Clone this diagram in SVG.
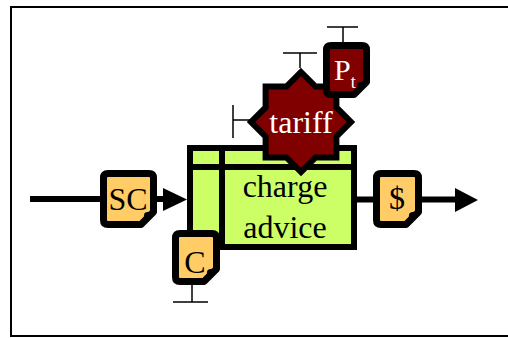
<svg xmlns="http://www.w3.org/2000/svg" width="508" height="338" viewBox="0 0 508 338">
<style>
.doc{stroke:#000;stroke-width:7;stroke-linejoin:round}
.org{fill:#ffcc66}
.red{fill:#800000}
.curl{fill:#000}
.lbl{font-family:"Liberation Serif","Times New Roman",serif;font-size:32px;text-anchor:middle;fill:#000}
.wlbl{font-family:"Liberation Serif","Times New Roman",serif;fill:#fff}
.flow{stroke:#000;stroke-width:6;fill:none}
.tbar{stroke:#000;stroke-width:1.5;fill:none}
</style>
<rect x="11" y="7" width="520" height="329" fill="#fff" stroke="#000" stroke-width="2"/>
<g id="connectors">
<line class="flow" x1="30" y1="199" x2="166" y2="199"/>
<polygon points="163,188 187,199.5 163,211" fill="#000"/>
<line class="flow" x1="354" y1="199.5" x2="458" y2="199.5"/>
<polygon points="455,188 478,200 455,212" fill="#000"/>
<path class="tbar" d="M233 105 V138 M233 120 H250"/>
<path class="tbar" d="M283 53 H317 M300 53 V68"/>
<path class="tbar" d="M327 27 H358 M343 27 V42"/>
<path class="tbar" d="M173 302 H208 M192 302 V285"/>
</g>
<g id="charge-advice">
<rect x="190" y="148" width="164" height="99" fill="#ccff66" stroke="#000" stroke-width="6"/>
<line x1="190" y1="167" x2="354" y2="167" stroke="#000" stroke-width="6"/>
<line x1="222" y1="148" x2="222" y2="247" stroke="#000" stroke-width="6"/>
<text class="lbl" x="285" y="197">charge</text>
<text class="lbl" x="285" y="238">advice</text>
</g>
<g id="SC">
<path class="doc org" d="M108 173.5 H149 Q153.5 173.5 153.5 178 V212 L141 224.5 H108 Q103.5 224.5 103.5 220 V178 Q103.5 173.5 108 173.5 Z"/>
<path class="curl" d="M153.5 212 Q144 211 144 215 Q144 221 141 224.5 Z"/>
<text class="lbl" x="128" y="210">SC</text>
</g>
<g id="C">
<path class="doc org" d="M180 233.5 H212 Q216.5 233.5 216.5 238 V269 L204 281.5 H180 Q175.5 281.5 175.5 277 V238 Q175.5 233.5 180 233.5 Z"/>
<path class="curl" d="M216.5 269 Q207 268 207 272 Q207 278 204 281.5 Z"/>
<text class="lbl" x="195" y="273">C</text>
</g>
<g id="dollar">
<path class="doc org" d="M381 173.5 H414 Q418.5 173.5 418.5 178 V212 L406 224.5 H381 Q376.5 224.5 376.5 220 V178 Q376.5 173.5 381 173.5 Z"/>
<path class="curl" d="M418.5 212 Q409 211 409 215 Q409 221 406 224.5 Z"/>
<text class="lbl" x="397" y="209">$</text>
</g>
<g id="tariff">
<polygon class="red" stroke="#000" stroke-width="6" stroke-linejoin="miter" points="301,72 315.6,86.6 336.4,86.6 336.4,107.4 351,122 336.4,136.6 336.4,157.4 315.6,157.4 301,172 286.4,157.4 265.6,157.4 265.6,136.6 251,122 265.6,107.4 265.6,86.6 286.4,86.6"/>
<text class="wlbl" x="301" y="133" font-size="32" text-anchor="middle">tariff</text>
</g>
<g id="Pt">
<path class="doc red" d="M331 45.5 H362 Q366.5 45.5 366.5 50 V82 L354 94.5 H331 Q326.5 94.5 326.5 90 V50 Q326.5 45.5 331 45.5 Z"/>
<path class="curl" d="M366.5 82 Q357 81 357 85 Q357 91 354 94.5 Z"/>
<text class="wlbl" x="334" y="80" font-size="30">P<tspan font-size="18" dy="8">t</tspan></text>
</g>
</svg>
